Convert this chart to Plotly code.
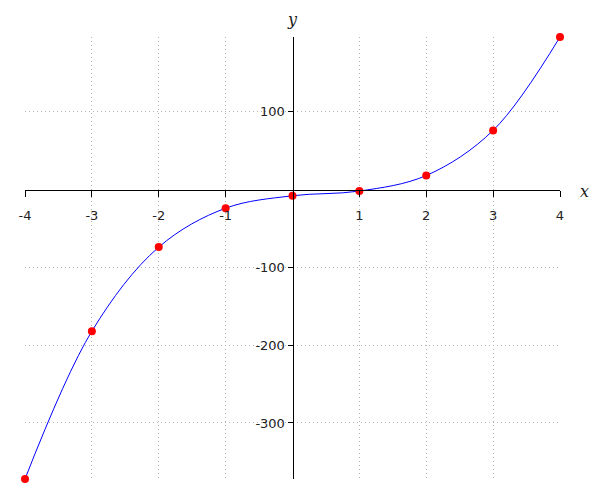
import plotly.graph_objects as go

x_vals = [-4, -3, -2, -1, 0, 1, 2, 3, 4]
y_vals = [-372, -182, -74, -24, -8, -2, 18, 76, 196]

x_ticks = [-4, -3, -2, -1, 1, 2, 3, 4]
x_tick_text = ["-4", "-3", "-2", "-1", "1", "2", "3", "4"]
y_ticks = [-300, -200, -100, 100]
y_tick_text = ["-300", "-200", "-100", "100"]

x_range = [-4, 4]
y_range = [-372, 196]

fig = go.Figure()
fig.add_trace(go.Scatter(
    x=x_vals, y=y_vals, mode="lines",
    line=dict(color="blue", width=1, shape="spline", smoothing=1.0),
    cliponaxis=False, hoverinfo="skip", showlegend=False,
))
fig.add_trace(go.Scatter(
    x=x_vals, y=y_vals, mode="markers",
    marker=dict(color="red", size=8),
    cliponaxis=False, showlegend=False,
))

tick_font = dict(family="DejaVu Sans", size=13, color="#222222")
y0_pos = (0 - y_range[0]) / (y_range[1] - y_range[0])
x0_pos = (0 - x_range[0]) / (x_range[1] - x_range[0])
grid_dash = "1px,3px"

fig.update_layout(
    width=592, height=480,
    margin=dict(l=17, r=40, t=29, b=9),
    paper_bgcolor="white", plot_bgcolor="white",
    xaxis=dict(
        range=x_range, anchor="free", position=y0_pos,
        showline=True, linecolor="black", linewidth=1,
        ticks="outside", ticklen=6, tickcolor="black", tickwidth=1,
        tickvals=x_ticks, ticktext=x_tick_text, tickfont=tick_font,
        ticklabelstandoff=8,
        showgrid=True, gridcolor="#b4b4b4", gridwidth=1, griddash=grid_dash,
        zeroline=False,
    ),
    yaxis=dict(
        range=y_range, anchor="free", position=x0_pos,
        showline=True, linecolor="black", linewidth=1,
        ticks="outside", ticklen=5, tickcolor="black", tickwidth=1,
        tickvals=y_ticks, ticktext=y_tick_text, tickfont=tick_font,
        showgrid=True, gridcolor="#b4b4b4", gridwidth=1, griddash=grid_dash,
        zeroline=False,
    ),
    annotations=[
        dict(x=0, y=1, xref="x", yref="paper", text="<i>y</i>", showarrow=False,
             yanchor="bottom", yshift=6,
             font=dict(family="DejaVu Serif", size=16, color="#222222"),
             xanchor="center"),
        dict(x=1, y=0, xref="paper", yref="y", text="<i>x</i>", showarrow=False,
             xanchor="center", xshift=24, yanchor="middle", yshift=-2,
             font=dict(family="DejaVu Serif", size=16, color="#222222")),
    ],
)

fig.write_html("out.html")
